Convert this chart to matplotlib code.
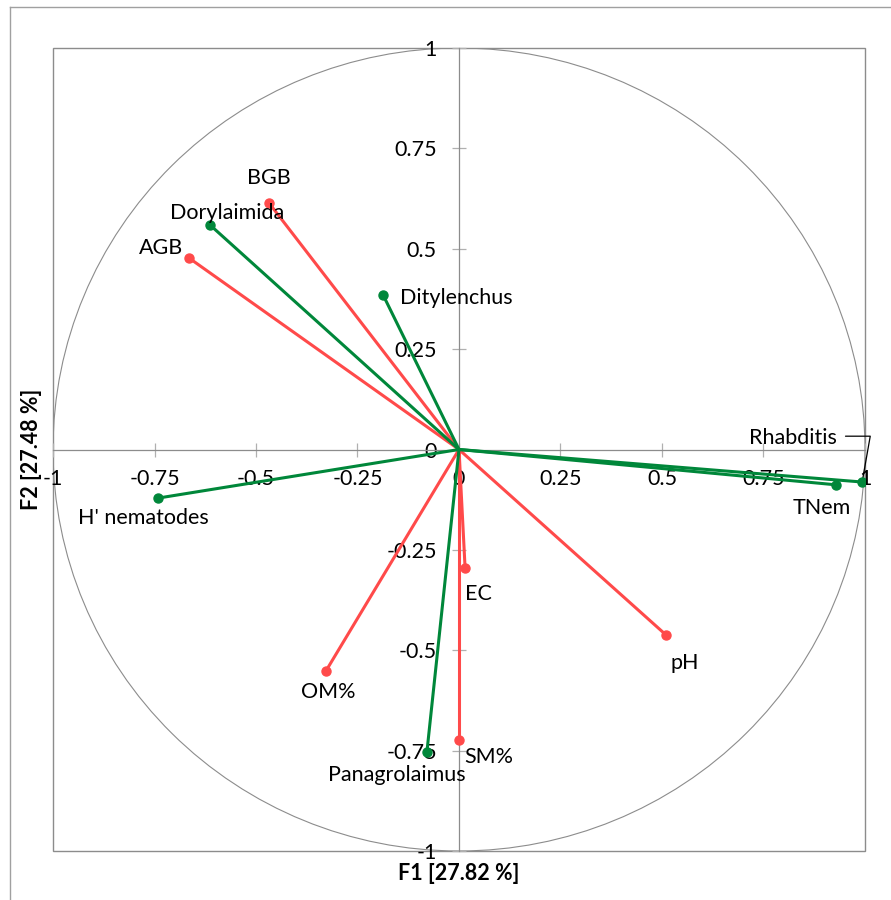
import matplotlib

matplotlib.use("Agg")
import matplotlib.pyplot as plt
import numpy as np
from matplotlib.patches import Circle, Rectangle

plt.rcParams["font.family"] = ["Lato", "DejaVu Sans"]

# active variables (soil / plant) - red
soil_names = ["BGB", "AGB", "EC", "pH", "OM%", "SM%"]
soil_f1 = [-0.468, -0.665, 0.015, 0.510, -0.328, 0.000]
soil_f2 = [0.614, 0.477, -0.295, -0.462, -0.552, -0.724]

# nematode variables - green
nem_names = ["Dorylaimida", "Ditylenchus", "H' nematodes", "Panagrolaimus", "TNem", "Rhabditis"]
nem_f1 = [-0.613, -0.187, -0.741, -0.079, 0.929, 0.993]
nem_f2 = [0.559, 0.385, -0.121, -0.753, -0.088, -0.081]

ticks = [-1, -0.75, -0.5, -0.25, 0, 0.25, 0.5, 0.75, 1]
tick_labels = ["-1", "-0.75", "-0.5", "-0.25", "0", "0.25", "0.5", "0.75", "1"]

RED = "#ff4a4a"
GREEN = "#00873a"
GREY = "#8c8c8c"
FS = 15.5

# label offsets in points (dx, dy, ha)
label_pos = {
    "BGB": (0, 18, "center"),
    "AGB": (-4, 7, "right"),
    "EC": (0, -19, "left"),
    "pH": (3, -20, "left"),
    "OM%": (-18, -15, "left"),
    "SM%": (4, -12, "left"),
    "Dorylaimida": (-29, 9, "left"),
    "Ditylenchus": (12, -2, "left"),
    "H' nematodes": (-58, -14, "left"),
    "Panagrolaimus": (-71, -17, "left"),
    "TNem": (-31, -17, "left"),
    "Rhabditis": (-18, 32, "right"),
}

fig = plt.figure(figsize=(8.91, 9.0), dpi=100)
ax = fig.add_axes([53 / 891, 1 - 851 / 900, 812 / 891, 803 / 900])

# outer frame of the picture (left + top)
fig.add_artist(plt.Line2D([10 / 891, 10 / 891], [0, 1 - 7 / 900], transform=fig.transFigure,
                          color="#a0a0a0", lw=1))
fig.add_artist(plt.Line2D([10 / 891, 1], [1 - 7 / 900, 1 - 7 / 900], transform=fig.transFigure,
                          color="#a0a0a0", lw=1))

ax.set_xlim(-1, 1)
ax.set_ylim(-1, 1)
for side in ("top", "right"):
    ax.spines[side].set_visible(False)
ax.spines["left"].set_position("zero")
ax.spines["bottom"].set_position("zero")
for side in ("left", "bottom"):
    ax.spines[side].set_color(GREY)
    ax.spines[side].set_linewidth(0.9)
ax.add_patch(Rectangle((0, 0), 1, 1, transform=ax.transAxes, fill=False,
                       edgecolor=GREY, lw=1.0, clip_on=False, zorder=1))
ax.add_patch(Circle((0, 0), 1, fill=False, edgecolor=GREY, lw=0.8, zorder=1))

ax.set_xticks(ticks, tick_labels)
ax.set_yticks(ticks, tick_labels)
ax.tick_params(axis="both", direction="inout", length=10, width=0.9, color="#b0b0b0",
               labelsize=FS, labelcolor="black")
ax.tick_params(axis="x", pad=9)
ax.tick_params(axis="y", pad=11)

for names, f1, f2, col in ((soil_names, soil_f1, soil_f2, RED),
                           (nem_names, nem_f1, nem_f2, GREEN)):
    for n, x, y in zip(names, f1, f2):
        ax.plot([0, x], [0, y], color=col, lw=2.2, zorder=3, solid_capstyle="round")
        ax.plot(x, y, "o", color=col, ms=6.5, zorder=4)
        dx, dy, ha = label_pos[n]
        ax.annotate(n, (x, y), xytext=(dx, dy), textcoords="offset points",
                    ha=ha, va="center", fontsize=FS, zorder=5)

# leader line for Rhabditis label
ri = nem_names.index("Rhabditis")
ax.annotate("", (nem_f1[ri], nem_f2[ri]), xytext=(-12, 33), textcoords="offset points",
            arrowprops=dict(arrowstyle="-", color="black", lw=0.9,
                            connectionstyle="angle,angleA=0,angleB=80,rad=0",
                            shrinkA=0, shrinkB=0))

fig.text((53 + 865) / 2 / 891, 1 - 874 / 900, "F1 [27.82 %]", ha="center", va="center",
         fontsize=FS, fontweight="bold")
fig.text(32 / 891, 1 - 449 / 900, "F2 [27.48 %]", ha="center", va="center",
         rotation=90, fontsize=FS, fontweight="bold")

fig.savefig("out.png", dpi=100)
